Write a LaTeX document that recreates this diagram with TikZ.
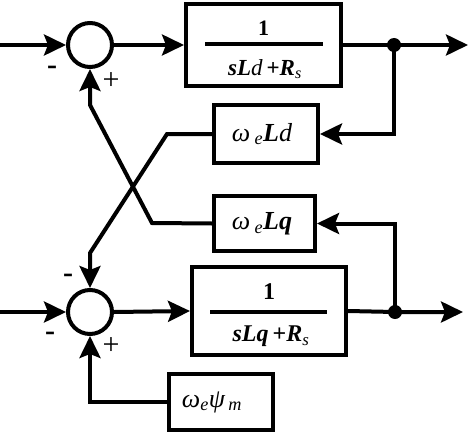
\documentclass[tikz,border=0pt]{standalone}
\usepackage{fontspec}
\setmainfont{Liberation Serif}
\usetikzlibrary{arrows.meta}
\usetikzlibrary{positioning}
\begin{document}
\begin{tikzpicture}[x=1pt, y=-1pt, line width=4pt,
    >={Stealth[length=22pt,width=21pt,inset=4pt]},
    blk/.style={draw, rectangle, inner sep=0pt},
    sumnode/.style={draw, circle, minimum size=44pt, inner sep=0pt},
    dot/.style={circle, fill, minimum size=14pt, inner sep=0pt},
    txt/.style={font=\fontsize{24}{28}\selectfont, inner sep=0pt},
    wtxt/.style={font=\fontsize{26}{30}\selectfont, inner sep=0pt},
    sgn/.style={font=\fontsize{30}{32}\selectfont, inner sep=0pt}]
      \useasboundingbox (0,0) rectangle (470,433);

      \node[sumnode] (sumd) at (90,45) {};
      \node[sumnode] (sumq) at (90,312) {};
      \node[blk, minimum width=155pt, minimum height=82pt] (blkd) at (263.5,45) {};
      \node[blk, minimum width=154pt, minimum height=88pt] (blkq) at (269,311) {};
      \node[blk, minimum width=104pt, minimum height=58pt] (wld) at (266,134) {};
      \node[blk, minimum width=101pt, minimum height=55pt] (wlq) at (264.5,223.5) {};
      \node[blk, minimum width=104pt, minimum height=56pt] (wpsi) at (221,402) {};

      \node[wtxt] at (262,134) {\textit{ω}\,\textsubscript{\textit{e}}\textbf{\textit{L}}\textit{d}};
      \node[wtxt] at (262,224) {\textit{ω}\,\textsubscript{\textit{e}}\textbf{\textit{Lq}}};
      \node[wtxt] at (212,402) {\textit{ω}\textsubscript{\textit{e}}\textit{ψ}\textsubscript{\,\textit{m}}};

      \node[txt, font=\fontsize{22}{26}\selectfont] at (263.5,28) {\textbf{1}};
      \draw[line width=3.5pt] (205,44) -- (323,44);
      \node[txt, font=\fontsize{23}{26}\selectfont] at (265,69) {\textbf{\textit{sL}}\textit{d}\,\textbf{+\textit{R}}\textsubscript{\textit{s}}};
      \node[txt] at (269,292) {\textbf{1}};
      \draw[line width=3.5pt] (210,312) -- (327,312);
      \node[txt] at (271,336) {\textbf{\textit{sLq}}\,\textbf{+\textit{R}}\textsubscript{\textit{s}}};

      \node[dot] (dotd) at (394,45) {};
      \node[dot] (dotq) at (395,312) {};
      \coordinate (ind) at (0,45);
      \coordinate (inq) at (0,312);
      \coordinate (outd) at (468,45);
      \coordinate (outq) at (463,312);

      \draw[->] (ind) -- (sumd.west);
      \draw[->] (sumd.east) -- (blkd.west);
      \draw[->] (blkd.east) -- (dotd.center) -- (outd);
      \draw[->] (dotd.center) |- (wld.east);
      \draw[->] (wld.west) -- (167,134) -- (90,253) -- (sumq.north);

      \draw[->] (inq) -- (sumq.west);
      \draw[->] (sumq.east) -- (blkq.west);
      \draw[->] (blkq.east) -- (dotq.center) -- (outq);
      \draw[->] (dotq.center) |- (wlq.east);
      \draw[->] (wlq.west) -- (152,223) -- (90,105) -- (sumd.south);
      \draw[->] (wpsi.west) -| (sumq.south);

      \node[sgn] at (52,70) {\textbf{-}};
      \node[sgn] at (111,81) {+};
      \node[sgn] at (68,278) {\textbf{-}};
      \node[sgn] at (50,336) {\textbf{-}};
      \node[sgn] at (111,346) {+};
    \end{tikzpicture}
\end{document}
